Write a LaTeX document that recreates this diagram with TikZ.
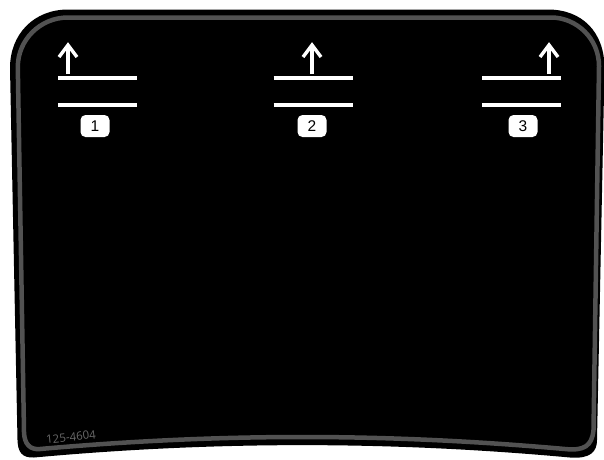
\documentclass[tikz,border=0pt]{standalone}
\usepackage{fontspec}
\setmainfont{Liberation Sans}
\newfontfamily\codefont{Open Sans}
\definecolor{rimgrey}{RGB}{82,82,82}
\definecolor{codegrey}{RGB}{105,105,105}
\begin{document}
\begin{tikzpicture}[x=1pt,y=-1pt,
  bar/.style={white,line width=4pt},
  upshaft/.style={white,line width=3.4pt},
  uphead/.style={white,line width=3.4pt,line join=miter},
  numbox/.style={fill=white,rounded corners=5pt,minimum width=29pt,minimum height=22pt,inner sep=0pt,font=\fontsize{15.5}{15.5}\selectfont,text=black},
  codelabel/.style={font=\codefont\fontsize{11.5}{12}\selectfont,text=codegrey,inner sep=0pt}]
\useasboundingbox (0,0) rectangle (604,459);
\begin{scope}
\clip (0,0) rectangle (604,459);
\fill[black] (10,68) -- (17.5,440) .. controls (17.8,452) and (22,458) .. (34,457.5)
  .. controls (215,441) and (390,441) .. (570,457.5)
  .. controls (590,459) and (597,452) .. (597,440) -- (604.5,68)
  .. controls (604.5,32) and (582,9.5) .. (548,9.5) -- (68,9.5)
  .. controls (34,9.5) and (10,34) .. (10,68) -- cycle;
\draw[rimgrey,line width=4.5pt] (17.8,67) -- (24,432) .. controls (24.3,444) and (30,450) .. (40,449)
  .. controls (220,433) and (385,433) .. (565,449)
  .. controls (584,451) and (592,446) .. (593.5,430) -- (599,66)
  .. controls (599,39) and (577,17.5) .. (551,17.5) -- (68,17.5)
  .. controls (40,17.5) and (17.8,40) .. (17.8,67) -- cycle;
\end{scope}
\foreach \n/\x/\ax/\bx in {1/97.5/68/95,2/313/312/312,3/521.5/549/523} {
  \draw[bar] ({\x-39.5},78) -- ({\x+39.5},78);
  \draw[bar] ({\x-39.5},105) -- ({\x+39.5},105);
  \coordinate (foot\n) at (\ax,74);
  \coordinate (tip\n) at (\ax,45);
  \draw[upshaft] (foot\n) -- (tip\n);
  \draw[uphead] ({\ax-9},57) -- (tip\n) -- ({\ax+9},57);
  \node[numbox] (num\n) at (\bx,126) {\n};
}
\node[codelabel,rotate=6] (code) at (71,437) {125-4604};
\end{tikzpicture}
\end{document}
